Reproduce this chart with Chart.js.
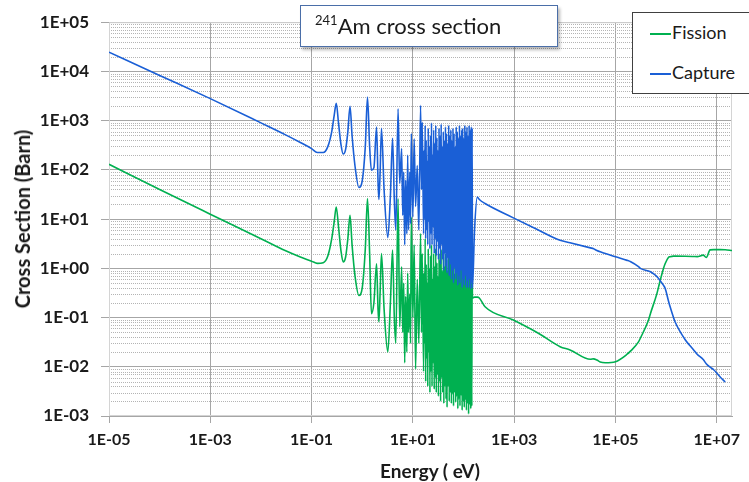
<!DOCTYPE html>
<html lang="en">
<head>
  <meta charset="UTF-8">
  <title>241Am cross section</title>
  <script src="https://cdn.jsdelivr.net/npm/chart.js"></script>
  <style>
    * { box-sizing: border-box; margin: 0; padding: 0; }

    body {
      background: #fff;
      font-family: 'Lato', sans-serif;
      color: #1a1a1a;
    }

    .wrap {
      position: relative;
      width: 749px;
      height: 482px;
      overflow: hidden;
    }

    .title-box {
      position: absolute;
      left: 300px;
      top: 5px;
      width: 258px;
      height: 42px;
      border: 1.5px solid #4a6ea8;
      background: #fff;
      box-shadow: 2px 3px 3px rgba(0, 0, 0, 0.28);
      padding-left: 14px;
      font-size: 22px;
      line-height: 39px;
      white-space: nowrap;
    }

    .title-box sup {
      font-size: 13px;
      vertical-align: 9px;
      line-height: 0;
    }

    .legend {
      position: absolute;
      left: 632px;
      top: 12px;
      width: 140px;
      height: 82px;
      border: 1px solid #404040;
      background: #fff;
      font-size: 18px;
    }

    .legend div {
      position: absolute;
      left: 17px;
      white-space: nowrap;
    }

    .legend span {
      display: inline-block;
      width: 21px;
      height: 2px;
      vertical-align: middle;
      margin-right: 1px;
    }

    .axis-title {
      position: absolute;
      font-weight: bold;
      white-space: nowrap;
      line-height: 1;
    }

    .x-title {
      left: 430px;
      top: 470px;
      font-size: 19px;
      transform: translate(-50%, -50%);
    }

    .y-title {
      left: 22px;
      top: 219px;
      font-size: 20px;
      transform: translate(-50%, -50%) rotate(-90deg);
    }
  </style>
</head>
<body>

<div class="wrap">
  <canvas id="xsChart" width="749" height="482"></canvas>
  <div class="axis-title x-title">Energy ( eV)</div>
  <div class="axis-title y-title">Cross Section (Barn)</div>
  <div class="title-box"><sup>241</sup>Am cross section</div>
  <div class="legend">
    <div style="top: 8px;"><span style="background: #00b050;"></span>Fission</div>
    <div style="top: 48px;"><span style="background: #1a5fd6;"></span>Capture</div>
  </div>
</div>

<script>
  // energy grid (eV) shared by both curves
  const energy = [
    1e-5, 1e-4, 1e-3, 1e-2, 0.03, 0.06, 0.1, 0.13, 0.17, 0.21, 0.25, 0.28, 0.307, 0.34, 0.38, 0.42,
    0.47, 0.52, 0.574, 0.63, 0.72, 0.86, 1.0, 1.15, 1.27, 1.4, 1.52, 1.7, 1.92, 2.05, 2.13, 2.25,
    2.4, 2.7, 3.2, 3.6, 3.97, 4.3, 4.6, 5.1, 5.5, 6.0, 6.3, 6.6, 6.9, 7.2, 7.6, 7.9,
    8.2, 8.7, 9.0, 9.3, 10.0, 10.6, 11.3, 12.2, 13.1, 14.2, 14.8, 15.3,
    16.3, 16.6, 17.0, 17.5, 17.9, 18.3, 18.8, 19.2, 19.7, 20.1, 20.6, 21.2, 21.7, 22.2, 22.8, 23.3,
    23.9, 24.5, 25.1, 25.7, 26.4, 27.0, 27.7, 28.3, 29.0, 29.8, 30.5, 31.2, 32.0, 32.8, 33.6, 34.5,
    35.3, 36.2, 37.1, 38.0, 38.9, 39.9, 40.9, 41.9, 42.9, 44.0, 45.1, 46.2, 47.3, 48.5, 49.7, 50.9,
    52.2, 53.5, 54.8, 56.2, 57.6, 59.0, 60.4, 61.9, 63.5, 65.0, 66.7, 68.3, 70.0, 71.7, 73.5, 75.3,
    77.2, 79.1, 81.1, 83.1, 85.1, 87.2, 89.4, 91.6, 93.9, 96.2, 98.6, 101, 103.5, 106, 108.7, 111.4,
    114.2, 117, 119.9, 122.9, 125.9, 129, 132.2, 135.5, 138.8, 142.3, 145.8, 148,
    150, 165, 187, 205, 266, 964, 3000, 8070, 12700, 32000, 37000, 43000, 50000, 63000, 1e5, 1.7e5,
    2e5, 2.85e5, 3.1e5, 4.5e5, 4.9e5, 6.6e5, 7.1e5, 8.9e5, 9.6e5, 1.11e6, 1.2e6, 1.4e6, 1.5e6, 2.4e6, 3.5e6, 4.1e6,
    5.4e6, 6.2e6, 7.4e6, 8.7e6, 1.17e7, 1.47e7, 2e7
  ];

  // fission cross section (barn)
  const fission = [
    130, 40, 12.6, 4.0, 2.3, 1.7, 1.4, 1.26, 1.3, 1.8, 4, 9, 17.6, 7, 2.3, 1.35,
    1.7, 4, 12, 3, 0.7, 0.28, 0.4, 2.5, 26, 2, 0.12, 0.2, 1.24, 0.15, 0.082, 0.3,
    2.0, 0.15, 0.02, 0.2, 2.34, 0.1, 0.03, 26, 0.065, 1.07, 0.05, 0.5, 0.012, 0.27, 0.02, 0.8,
    0.05, 0.3, 0.03, 11, 0.1, 3, 0.009, 0.6, 0.03, 5.1, 0.05, 2,
    0.008, 0.8, 0.03, 4, 0.005, 1.2, 0.015, 0.5, 0.004, 2.5, 0.02, 1, 0.003, 1.8, 0.008, 3,
    0.004, 0.6, 0.012, 2, 0.0035, 1.1, 0.006, 2.5, 0.003, 1.3, 0.007, 0.7, 0.0025, 2, 0.005, 1.5,
    0.002, 2.4, 0.006, 0.9, 0.003, 1.7, 0.0018, 1.1, 0.004, 2, 0.0022, 1.5, 0.0015, 0.9, 0.004, 2.2,
    0.002, 1.3, 0.003, 1.8, 0.0018, 1, 0.0028, 1.9, 0.0016, 1.4, 0.003, 0.8, 0.0019, 2, 0.0025, 1.6,
    0.0014, 1.1, 0.0022, 2.1, 0.0016, 1.3, 0.0026, 1.7, 0.0013, 1.9, 0.002, 1.2, 0.0015, 2.1, 0.0021, 1.5,
    0.0013, 1.9, 0.0018, 1.2, 0.0011, 2, 0.0017, 1.6, 0.0014, 1.9, 0.0016, 1.8,
    0.25, 0.26, 0.26, 0.25, 0.166, 0.089, 0.048, 0.0256, 0.022, 0.0142, 0.0145, 0.0137, 0.0125, 0.0121, 0.0127, 0.018,
    0.021, 0.032, 0.038, 0.089, 0.12, 0.31, 0.42, 1.0, 1.25, 1.66, 1.72, 1.77, 1.77, 1.76, 1.74, 1.73,
    1.85, 1.66, 2.37, 2.4, 2.4, 2.38, 2.3
  ];

  // capture cross section (barn)
  const capture = [
    24600, 8300, 2800, 900, 520, 360, 270, 225, 225, 300, 600, 1300, 2240, 900, 330, 210,
    260, 600, 1950, 500, 120, 44, 60, 300, 3030, 300, 98, 110, 740, 60, 25, 80,
    700, 40, 4.2, 30, 440, 25, 6, 1740, 53, 270, 12, 90, 3, 62, 5, 200,
    6, 90, 8, 550, 11, 430, 18, 123, 6, 2050, 40, 930,
    5, 250, 10, 800, 4, 400, 6, 150, 3, 700, 9, 300, 2.5, 500, 5, 900,
    3, 200, 7, 650, 2, 350, 4, 800, 1.8, 450, 3.5, 250, 1.5, 700, 2.5, 500,
    1.2, 850, 3, 300, 1.5, 600, 0.9, 400, 2, 750, 1.1, 550, 0.8, 350, 1.6, 800,
    0.7, 500, 1.2, 650, 0.6, 400, 0.9, 700, 0.5, 550, 1.0, 300, 0.6, 750, 0.8, 600,
    0.45, 450, 0.7, 800, 0.5, 500, 0.9, 650, 0.4, 700, 0.6, 450, 0.45, 800, 0.7, 600,
    0.4, 750, 0.55, 500, 0.4, 800, 0.6, 650, 0.38, 750, 0.5, 700,
    0.4, 6, 28, 25, 20.7, 10.6, 6.0, 3.7, 3.3, 2.6, 2.5, 2.3, 2.16, 2.0, 1.71, 1.45,
    1.36, 1.08, 1.0, 0.88, 0.85, 0.68, 0.62, 0.45, 0.39, 0.22, 0.165, 0.1, 0.082, 0.035, 0.022, 0.018,
    0.014, 0.0115, 0.0098, 0.0087, 0.0062, 0.0049, null
  ];

  const xTicks = [1e-5, 1e-3, 1e-1, 1e1, 1e3, 1e5, 1e7];
  const yTicks = [1e-3, 1e-2, 1e-1, 1e0, 1e1, 1e2, 1e3, 1e4, 1e5];

  const fmt = v => {
    const p = Math.round(Math.log10(v));
    return '1E' + (p < 0 ? '-' : '+') + String(Math.abs(p)).padStart(2, '0');
  };

  // dotted minor grid lines (2..9 in each decade)
  const minorGrid = {
    id: 'minorGrid',
    beforeDatasetsDraw(chart) {
      const { ctx, chartArea: a, scales: { y } } = chart;
      ctx.save();
      ctx.strokeStyle = '#b4b4b4';
      ctx.lineWidth = 1;
      ctx.setLineDash([1, 1]);
      for (let p = -3; p < 5; p++) {
        for (let k = 2; k <= 9; k++) {
          const py = Math.round(y.getPixelForValue(k * Math.pow(10, p))) + 0.5;
          ctx.beginPath();
          ctx.moveTo(a.left, py);
          ctx.lineTo(a.right, py);
          ctx.stroke();
        }
      }
      ctx.setLineDash([]);
      ctx.strokeStyle = '#d4d4d4';
      ctx.strokeRect(a.left + 0.5, a.top + 0.5, a.right - a.left - 1, a.bottom - a.top - 1);
      ctx.restore();
    }
  };

  Chart.defaults.font.family = 'Lato';
  Chart.defaults.color = '#1a1a1a';

  new Chart(document.getElementById('xsChart'), {
    type: 'scatter',
    data: {
      datasets: [
        {
          label: 'Capture',
          data: energy.map((e, i) => ({ x: e, y: capture[i] })),
          borderColor: '#1a5fd6',
          borderWidth: 1.6,
          showLine: true,
          pointRadius: 0,
          cubicInterpolationMode: 'monotone'
        },
        {
          label: 'Fission',
          data: energy.map((e, i) => ({ x: e, y: fission[i] })),
          borderColor: '#00b050',
          borderWidth: 1.6,
          showLine: true,
          pointRadius: 0,
          cubicInterpolationMode: 'monotone'
        }
      ]
    },
    options: {
      responsive: false,
      animation: false,
      layout: { padding: { top: 22, right: 17 } },
      plugins: {
        legend: { display: false },
        tooltip: { enabled: false }
      },
      scales: {
        x: {
          type: 'logarithmic',
          min: 1e-5,
          max: 2e7,
          afterBuildTicks: s => { s.ticks = xTicks.map(v => ({ value: v })); },
          afterFit: s => { s.height = 66; },
          grid: { color: '#a6a6a6', tickColor: '#a6a6a6', tickLength: 7 },
          border: { color: '#a6a6a6' },
          ticks: {
            callback: v => fmt(v),
            font: { size: 16, weight: 'bold' },
            maxRotation: 0,
            padding: 7
          }
        },
        y: {
          type: 'logarithmic',
          min: 1e-3,
          max: 1e5,
          afterBuildTicks: s => { s.ticks = yTicks.map(v => ({ value: v })); },
          afterFit: s => { s.width = 109; },
          grid: { color: '#a6a6a6', tickColor: '#a6a6a6', tickLength: 8 },
          border: { color: '#a6a6a6' },
          ticks: {
            callback: v => fmt(v),
            font: { size: 17, weight: 'bold' },
            padding: 12
          }
        }
      }
    },
    plugins: [minorGrid]
  });
</script>

</body>
</html>
